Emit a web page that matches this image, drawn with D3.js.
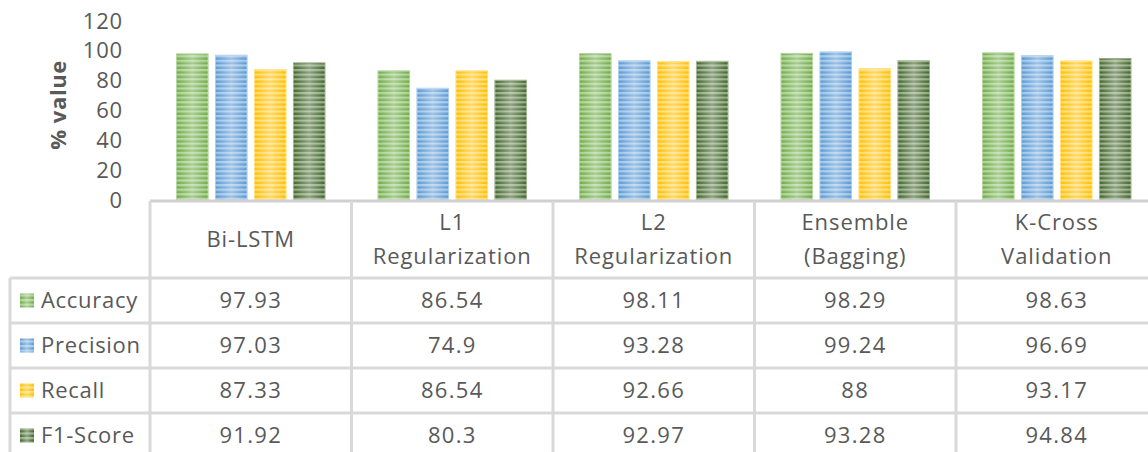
<!DOCTYPE html>
<html>
<head>
<meta charset="utf-8">
<script src="https://cdn.jsdelivr.net/npm/d3@7/dist/d3.min.js"></script>
<style>
  html, body { margin: 0; padding: 0; background: #fff; }
  svg { display: block; font-family: "Open Sans", "Noto Sans", sans-serif; }
</style>
</head>
<body>
<svg id="chart" width="1148" height="452"></svg>
<script>
// Model variants (header cells; "\n" splits the two-line headers)
const categories = ["Bi-LSTM", "L1\nRegularization", "L2\nRegularization", "Ensemble\n(Bagging)", "K-Cross\nValidation"];
const seriesNames = ["Accuracy", "Precision", "Recall", "F1-Score"];
const accuracy  = [97.93, 86.54, 98.11, 98.29, 98.63];
const precision = [97.03, 74.9, 93.28, 99.24, 96.69];
const recall    = [87.33, 86.54, 92.66, 88, 93.17];
const f1Score   = [91.92, 80.3, 92.97, 93.28, 94.84];
const yTicks = [0, 20, 40, 60, 80, 100, 120];

const seriesValues = [accuracy, precision, recall, f1Score];
const colors = ["#70ad47", "#5b9bd5", "#ffc000", "#43682b"];

const svg = d3.select("#chart");
const textColor = "#595959";
const gridColor = "#d9d9d9";

// Layout
const left = 150, colW = 201.5;
const plotTop = 21, plotBottom = 200;
const tableTop = 201, headerBottom = 278, rowH = 45;

const x = d3.scaleBand().domain(d3.range(categories.length))
  .range([left, left + colW * categories.length]).padding(0);
const xInner = d3.scaleBand().domain(d3.range(seriesNames.length))
  .range([0, colW]).paddingInner(0.19).paddingOuter(0.68);
const y = d3.scaleLinear().domain([0, 120]).range([plotBottom, plotTop]);

// Fills: horizontal sheen plus fine horizontal stripes
const defs = svg.append("defs");
colors.forEach((c, i) => {
  const light = d3.interpolateRgb(c, "#ffffff")(0.4);
  const g = defs.append("linearGradient").attr("id", "sheen" + i)
    .attr("x1", "0").attr("x2", "1").attr("y1", "0").attr("y2", "0");
  g.append("stop").attr("offset", "0").attr("stop-color", c);
  g.append("stop").attr("offset", "0.5").attr("stop-color", light);
  g.append("stop").attr("offset", "1").attr("stop-color", c);
});
const stripe = defs.append("pattern").attr("id", "stripes")
  .attr("patternUnits", "userSpaceOnUse").attr("width", 8).attr("height", 4.6);
stripe.append("rect").attr("x", 0).attr("y", 0).attr("width", 8).attr("height", 2.2)
  .attr("fill", "#ffffff").attr("fill-opacity", 0.42);

// Y axis
const yAxis = d3.axisLeft(y).tickValues(yTicks).tickSize(0).tickPadding(27);
const ya = svg.append("g").attr("transform", `translate(${left},0)`).call(yAxis);
ya.select(".domain").remove();
ya.selectAll("text").attr("fill", textColor).style("font-size", "22px")
  .style("letter-spacing", "0.8px")
  .style("font-family", "'Open Sans', sans-serif");

svg.append("text")
  .attr("transform", `translate(58,105) rotate(-90)`)
  .attr("text-anchor", "middle").attr("dy", "0.35em")
  .attr("fill", textColor).style("font-size", "22px").style("font-weight", "bold")
  .style("letter-spacing", "0.6px")
  .text("% value");

// Bars
const groups = svg.append("g").selectAll("g").data(categories).join("g")
  .attr("transform", (d, i) => `translate(${x(i)},0)`);
seriesNames.forEach((s, si) => {
  groups.append("rect")
    .attr("x", (d, i) => xInner(si))
    .attr("y", (d, i) => y(seriesValues[si][i]))
    .attr("width", xInner.bandwidth())
    .attr("height", (d, i) => y(0) - y(seriesValues[si][i]))
    .attr("fill", `url(#sheen${si})`)
    .attr("stroke", d3.interpolateRgb(colors[si], "#ffffff")(0.45))
    .attr("stroke-width", 1);
  groups.append("rect")
    .attr("x", (d, i) => xInner(si))
    .attr("y", (d, i) => y(seriesValues[si][i]))
    .attr("width", xInner.bandwidth())
    .attr("height", (d, i) => y(0) - y(seriesValues[si][i]))
    .attr("fill", "url(#stripes)");
});

// Data table grid
const grid = svg.append("g").attr("stroke", gridColor).attr("stroke-width", 3);
const right = 1148;
grid.append("line").attr("x1", left).attr("x2", right).attr("y1", tableTop).attr("y2", tableTop)
  .attr("stroke", "#d0d0d0");
seriesNames.forEach((s, si) => {
  const yy = headerBottom + si * rowH;
  grid.append("line").attr("x1", 10).attr("x2", right).attr("y1", yy).attr("y2", yy);
});
d3.range(categories.length).forEach(i => {
  grid.append("line").attr("x1", x(i)).attr("x2", x(i)).attr("y1", tableTop).attr("y2", 452);
});
grid.append("line").attr("x1", 10).attr("x2", 10).attr("y1", headerBottom).attr("y2", 452);

// Header cells
const headerMid = (tableTop + headerBottom) / 2;
categories.forEach((c, i) => {
  const lines = c.split("\n");
  const t = svg.append("text").attr("text-anchor", "middle").attr("fill", textColor)
    .style("font-size", "22px").style("letter-spacing", "0.9px");
  lines.forEach((ln, k) => {
    t.append("tspan").attr("x", x(i) + colW / 2)
      .attr("y", headerMid + (k - (lines.length - 1) / 2) * 34)
      .attr("dy", "0.35em").text(ln);
  });
});

// Legend column and value rows
seriesNames.forEach((s, si) => {
  const cy = headerBottom + si * rowH + rowH / 2;
  svg.append("rect").attr("x", 20).attr("y", cy - 7).attr("width", 14).attr("height", 14)
    .attr("fill", `url(#sheen${si})`);
  svg.append("rect").attr("x", 20).attr("y", cy - 7).attr("width", 14).attr("height", 14)
    .attr("fill", "url(#stripes)");
  svg.append("text").attr("x", 41).attr("y", cy).attr("dy", "0.35em")
    .attr("fill", textColor).style("font-size", "22px").style("letter-spacing", "0.7px").text(s);
  seriesValues[si].forEach((v, i) => {
    svg.append("text").attr("x", x(i) + colW / 2).attr("y", cy).attr("dy", "0.35em")
      .attr("text-anchor", "middle").attr("fill", textColor)
      .style("font-size", "22px").style("letter-spacing", "1.3px").text(String(v));
  });
});
</script>
</body>
</html>
